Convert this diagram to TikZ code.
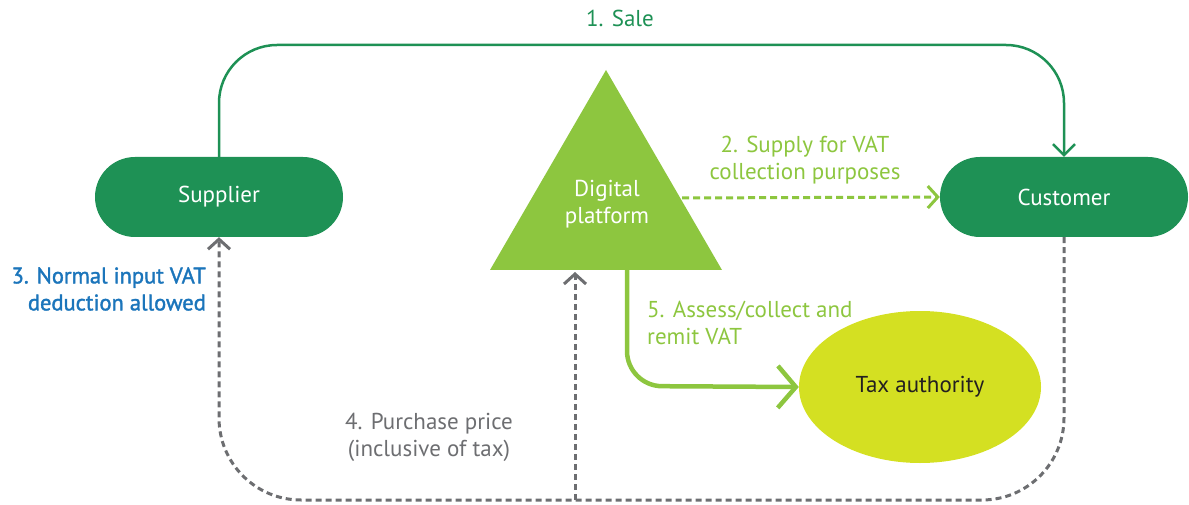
\documentclass[tikz,border=0pt]{standalone}
\usepackage{fontspec}
\setmainfont{PT Sans}
\newfontfamily\semibfont[FakeBold=1.6]{PT Sans}
\usetikzlibrary{arrows.meta,shapes.geometric}
\definecolor{dkgreen}{HTML}{1E9155}
\definecolor{ltgreen}{HTML}{8DC63F}
\definecolor{yellowg}{HTML}{D4E022}
\definecolor{grayc}{HTML}{6D6E71}
\definecolor{bluec}{HTML}{1B75BB}
\definecolor{darktext}{HTML}{231F20}
\begin{document}
\begin{tikzpicture}[x=1pt,y=-1pt,
  every node/.style={font=\fontsize{23}{27}\selectfont, inner sep=0pt},
  pill/.style={rectangle, rounded corners=40pt, fill=dkgreen, text=white, minimum width=248pt, minimum height=80pt},
  lbl/.style={align=center},
  salearrow/.style={draw=dkgreen, line width=2.5pt, rounded corners=58pt, -{Straight Barb[length=11pt,width=22pt,line width=2.5pt]}},
  supplyarrow/.style={draw=ltgreen, line width=3pt, dash pattern=on 7pt off 4pt, -{Straight Barb[length=10pt,width=22pt,line width=3pt]}},
  grayarrow/.style={draw=grayc, line width=3pt, dash pattern=on 6pt off 4pt, -{Straight Barb[length=10pt,width=22pt,line width=3pt]}},
  taxarrow/.style={draw=ltgreen, line width=4.5pt, rounded corners=35pt, -{Straight Barb[length=18pt,width=42pt,line width=4.5pt]}}
]
\useasboundingbox (0,0) rectangle (1189,505);

% nodes
\node[pill] (sup) at (219,197) {Supplier};
\node[pill] (cust) at (1064,197) {Customer};
\fill[ltgreen] (606,70) -- (722,270) -- (490,270) -- cycle;
\node[lbl, text=white] (dp) at (607,204) {Digital\\platform};
\node[ellipse, fill=yellowg, text=darktext, minimum width=242pt, minimum height=152pt] (tax) at (920,387) {Tax authority};

\coordinate (dpright) at (682,198);
\coordinate (dpbase) at (627,270);
\coordinate (dpin) at (575,272);
\coordinate (saletop1) at (219,45);
\coordinate (saletop2) at (1064,45);
\coordinate (botR) at (1064,500);
\coordinate (botL) at (219,500);
\coordinate (branch) at (575,500);
\coordinate (taxcorner) at (627,386);

% connectors
\draw[salearrow] (sup.north) -- (saletop1) -- (saletop2) -- (cust.north);
\draw[supplyarrow] (dpright) -- (cust.west);
\draw[grayarrow, rounded corners=82pt] (cust.south) -- (botR) -- (botL) -- (sup.south);
\draw[grayarrow] (branch) -- (dpin);
\draw[taxarrow] (dpbase) -- (taxcorner) -- (tax.west);

% labels
\node[text=dkgreen] (l1) at (620,18) {1. Sale};
\node[lbl, text=ltgreen] (l2) at (805,160) {2. Supply for VAT\\collection purposes};
\node[align=right, text=bluec, anchor=east, font=\semibfont\fontsize{22.5}{27}\selectfont] (l3) at (206,289) {3. Normal input VAT\\deduction allowed};
\node[lbl, text=grayc] (l4) at (429,437) {4. Purchase price\\(inclusive of tax)};
\node[align=left, text=ltgreen, anchor=west] (l5) at (647,323) {5. Assess/collect and\\remit VAT};
\end{tikzpicture}
\end{document}
